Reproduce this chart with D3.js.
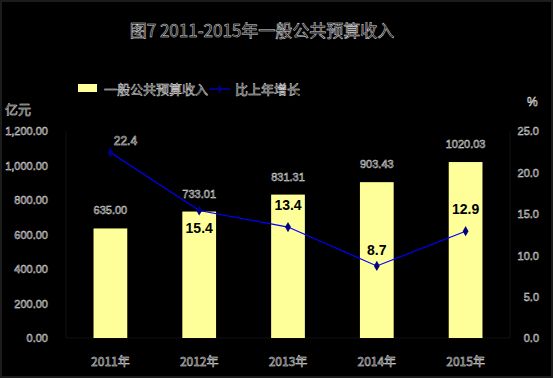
<!DOCTYPE html>
<html>
<head>
<meta charset="utf-8">
<script src="https://cdn.jsdelivr.net/npm/d3@7"></script>
<style>
  body { margin: 0; background: #000; }
  svg { display: block; }
  .ol { fill: #000; stroke: #e0e0e0; stroke-width: 0.5px; font-family: "Liberation Sans", Arial, sans-serif; }
  .cjk { font-family: "Noto Sans CJK SC", sans-serif; }
</style>
</head>
<body>
<svg class="chart" width="553" height="378"></svg>
<script>
var years = ["2011年", "2012年", "2013年", "2014年", "2015年"];
var revenue = [635.00, 733.01, 831.31, 903.43, 1020.03];
var growth = [22.4, 15.4, 13.4, 8.7, 12.9];
var leftTicks = [0, 200, 400, 600, 800, 1000, 1200];
var rightTicks = [0, 5, 10, 15, 20, 25];

var svg = d3.select(".chart");
var width = +svg.attr("width"), height = +svg.attr("height");
var margin = { top: 131, right: 43, bottom: 40, left: 66 };

svg.append("rect").attr("width", width).attr("height", height).attr("fill", "#000")
  .attr("stroke", "#1c1c1c").attr("stroke-width", 4);

var x = d3.scaleBand().domain(years).range([margin.left, width - margin.right]).paddingInner(0.62).paddingOuter(0.31);
var yL = d3.scaleLinear().domain([0, 1200]).range([height - margin.bottom, margin.top]);
var yR = d3.scaleLinear().domain([0, 25]).range([height - margin.bottom, margin.top]);

// title
svg.append("text").attr("class", "ol cjk").attr("x", 262).attr("y", 37)
  .attr("text-anchor", "middle").style("font-size", "17px")
  .text("图7  2011-2015年一般公共预算收入");

// legend
svg.append("rect").attr("x", 78).attr("y", 84).attr("width", 19).attr("height", 8).attr("fill", "#ffff99");
svg.append("text").attr("class", "ol cjk").attr("x", 104).attr("y", 94).style("font-size", "13px").text("一般公共预算收入");
svg.append("line").attr("x1", 209).attr("x2", 230).attr("y1", 89).attr("y2", 89).attr("stroke", "#0000ff");
svg.append("path").attr("d", d3.symbol(d3.symbolDiamond, 20)).attr("transform", "translate(219.5,89)").attr("fill", "#000080");
svg.append("text").attr("class", "ol cjk").attr("x", 235).attr("y", 94).style("font-size", "13px").text("比上年增长");

// axis units
svg.append("text").attr("class", "ol cjk").attr("x", 5).attr("y", 114).style("font-size", "13px").text("亿元");
svg.append("text").attr("class", "ol").attr("x", 527).attr("y", 106).style("font-size", "12px").text("%");

// faint plot frame
svg.append("line").attr("x1", margin.left).attr("x2", margin.left).attr("y1", margin.top).attr("y2", height - margin.bottom).attr("stroke", "#111");
svg.append("line").attr("x1", width - margin.right).attr("x2", width - margin.right).attr("y1", margin.top).attr("y2", height - margin.bottom).attr("stroke", "#111");
svg.append("line").attr("x1", margin.left).attr("x2", width - margin.right).attr("y1", yL(0)).attr("y2", yL(0)).attr("stroke", "#111");

// left axis
var gL = svg.append("g").attr("transform", "translate(" + (margin.left - 15) + ",0)")
  .call(d3.axisLeft(yL).tickValues(leftTicks).tickSize(0).tickFormat(function (d) {
    return d3.format(",.2f")(d);
  }));
gL.select(".domain").remove();
gL.selectAll("text").attr("class", "ol").style("font-size", "11px").attr("dy", "0.35em");

// right axis
var gR = svg.append("g").attr("transform", "translate(" + (width - 11) + ",0)")
  .call(d3.axisLeft(yR).tickValues(rightTicks).tickSize(0).tickFormat(d3.format(".1f")));
gR.select(".domain").remove();
gR.selectAll("text").attr("class", "ol").style("font-size", "11px").attr("dy", "0.35em");

// x axis labels
svg.append("g").selectAll("text").data(years).enter().append("text")
  .attr("class", "ol cjk").attr("x", function (d) { return x(d) + x.bandwidth() / 2; })
  .attr("y", 366).attr("text-anchor", "middle").style("font-size", "12px")
  .text(function (d) { return d; });

// bars
svg.append("g").selectAll("rect").data(revenue).enter().append("rect")
  .attr("x", function (d, i) { return x(years[i]); })
  .attr("y", function (d) { return yL(d); })
  .attr("width", x.bandwidth())
  .attr("height", function (d) { return yL(0) - yL(d); })
  .attr("fill", "#ffff99");

svg.append("g").selectAll("text").data(revenue).enter().append("text")
  .attr("class", "ol").attr("x", function (d, i) { return x(years[i]) + x.bandwidth() / 2; })
  .attr("y", function (d) { return yL(d) - 14; })
  .attr("text-anchor", "middle").style("font-size", "11px")
  .text(function (d) { return d3.format(".2f")(d); });

// growth line
var line = d3.line().x(function (d, i) { return x(years[i]) + x.bandwidth() / 2; }).y(function (d) { return yR(d); });
svg.append("path").datum(growth).attr("d", line).attr("fill", "none").attr("stroke", "#0000ff").attr("stroke-width", 1.2);
svg.append("g").selectAll("path").data(growth).enter().append("path")
  .attr("d", d3.symbol(d3.symbolDiamond, 30))
  .attr("transform", function (d, i) { return "translate(" + (x(years[i]) + x.bandwidth() / 2) + "," + yR(d) + ")"; })
  .attr("fill", "#000080");

// growth labels (first one outlined above the point, 2012 below, the rest above inside the bars)
svg.append("g").selectAll("text").data(growth).enter().append("text")
  .attr("class", function (d, i) { return i === 0 ? "ol" : null; })
  .attr("x", function (d, i) { return x(years[i]) + x.bandwidth() / 2 + (i === 0 ? 15 : 0); })
  .attr("y", function (d, i) {
    if (i === 0) return yR(d) - 8;
    if (i === 1) return yR(d) + 23;
    if (i === 3) return yR(d) - 11;
    return yR(d) - 17;
  })
  .attr("text-anchor", "middle")
  .style("font-size", function (d, i) { return i === 0 ? "12px" : "14px"; })
  .style("font-weight", function (d, i) { return i === 0 ? null : "bold"; })
  .style("font-family", "'Liberation Sans', Arial, sans-serif")
  .attr("fill", "#000")
  .text(function (d) { return d3.format(".1f")(d); });
</script>
</body>
</html>
